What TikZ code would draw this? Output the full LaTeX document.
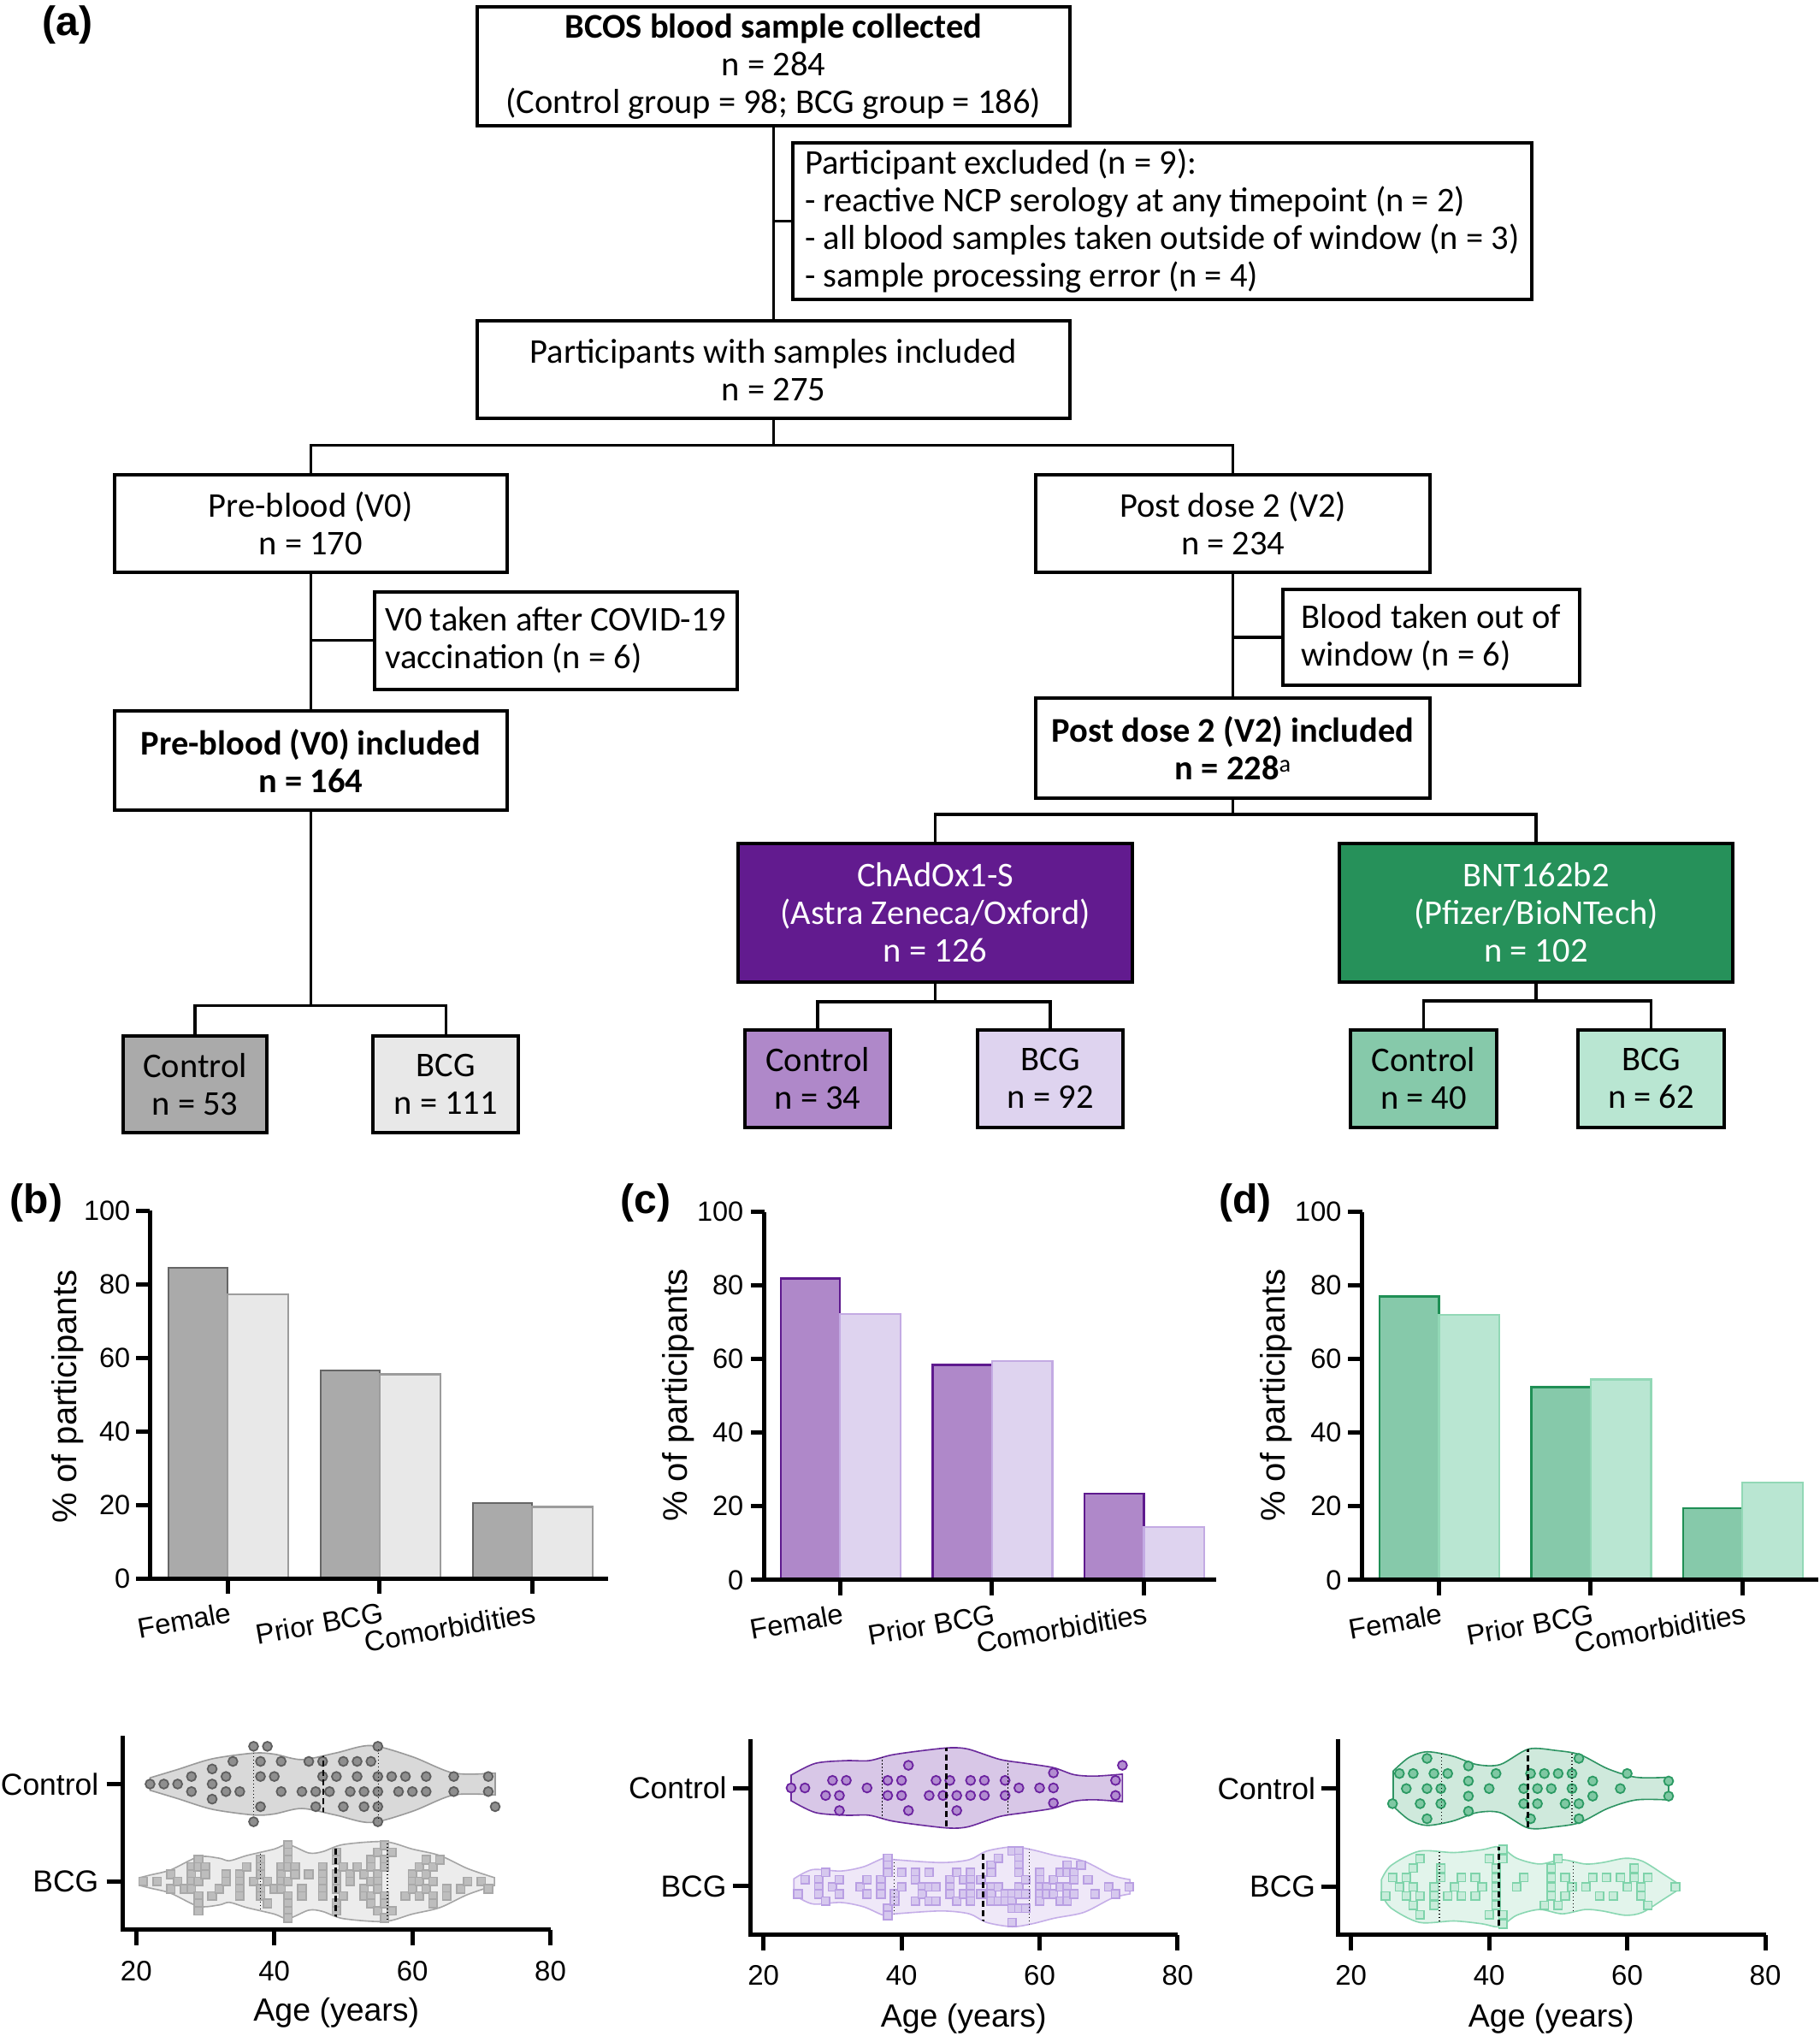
\documentclass[tikz,border=0pt]{standalone}
\usepackage{fontspec}
\setmainfont{Liberation Sans}
\newfontfamily\flowfont{Carlito}
\usetikzlibrary{positioning,calc}

% box and bar colours
\definecolor{chadpurple}{HTML}{621B8F}
\definecolor{bntgreen}{HTML}{26915A}
\definecolor{ctrlgray}{HTML}{AAAAAA}
\definecolor{bcggray}{HTML}{E8E8E8}
\definecolor{ctrlpurple}{HTML}{AF88C9}
\definecolor{bcgpurple}{HTML}{DED3EF}
\definecolor{ctrlgreen}{HTML}{86C9AA}
\definecolor{bcggreen}{HTML}{B9E6D2}
\definecolor{grayedge}{HTML}{666666}
\definecolor{grayedgel}{HTML}{9C9C9C}
\definecolor{purpleedge}{HTML}{5E1A8E}
\definecolor{purpleedgel}{HTML}{C3AAE3}
\definecolor{greenedge}{HTML}{1F8F55}
\definecolor{greenedgel}{HTML}{92D8B6}
% violin colours
\definecolor{vgraycf}{HTML}{D9D9D9}
\definecolor{vgrayce}{HTML}{9A9A9A}
\definecolor{vgraybf}{HTML}{ECECEC}
\definecolor{vgraybe}{HTML}{A5A5A5}
\definecolor{vpurcf}{HTML}{D8C7E7}
\definecolor{vpurce}{HTML}{6A2A9C}
\definecolor{vpurbf}{HTML}{EFE8F8}
\definecolor{vpurbe}{HTML}{C5AEE8}
\definecolor{vgrncf}{HTML}{CFE9DC}
\definecolor{vgrnce}{HTML}{2E9463}
\definecolor{vgrnbf}{HTML}{E2F4EB}
\definecolor{vgrnbe}{HTML}{8AD7B2}
\definecolor{dgrayf}{HTML}{8F8F8F}
\definecolor{dgraye}{HTML}{5E5E5E}
\definecolor{sgrayf}{HTML}{BDBDBD}
\definecolor{sgraye}{HTML}{A8A8A8}
\definecolor{dpurf}{HTML}{B28CD0}
\definecolor{dpure}{HTML}{6B22A0}
\definecolor{spurf}{HTML}{D6C8EE}
\definecolor{spure}{HTML}{B99FE3}
\definecolor{dgrnf}{HTML}{7FC8A3}
\definecolor{dgrne}{HTML}{2B9A63}
\definecolor{sgrnf}{HTML}{C8ECDA}
\definecolor{sgrne}{HTML}{7ED3AA}

\tikzset{
  flowbox/.style 2 args={draw, line width=4pt, fill=white, inner sep=0pt, align=center,
    minimum width=#1*1.52pt, minimum height=#2*1.52pt,
    font=\flowfont\fontsize{40.5}{44}\selectfont},
  notebox/.style 2 args={flowbox={#1}{#2}, align=left},
  link/.style={line width=3.5pt},
  axisline/.style={line width=5pt},
  barbox/.style 2 args={fill=#1, draw=#2, line width=2.3pt},
  ticklab/.style={font=\fontsize{32.5}{38}\selectfont, inner sep=0pt},
  catlab/.style={font=\fontsize{33}{38}\selectfont, inner sep=0pt, anchor=north east, rotate=10},
  ylab/.style={font=\fontsize{40}{48}\selectfont, rotate=90},
  plab/.style={font=\bfseries\fontsize{48}{52}\selectfont},
  grplab/.style={font=\fontsize{35.5}{42}\selectfont, anchor=east, inner sep=0pt},
  numlab/.style={font=\fontsize{33}{40}\selectfont, inner sep=0pt},
  agelab/.style={font=\fontsize{37.5}{44}\selectfont},
  vio/.style 2 args={fill=#1, draw=#2, line width=1.6pt},
  med/.style={line width=2.6pt, dash pattern=on 7pt off 4pt},
  quart/.style={line width=1.2pt, dash pattern=on 1.5pt off 2.5pt},
  cdot/.style 2 args={fill=#1, draw=#2, line width=1.8pt},
  sqr/.style 2 args={fill=#1, draw=#2, line width=1.6pt},
  agescale/.style 2 args={shift={(#1,#2)}, x=8.071pt},
}

\begin{document}
\begin{tikzpicture}[x=1.52pt,y=-1.52pt]
\fill[white] (0,0) rectangle (1400,1570.4);
\useasboundingbox (0,0) rectangle (1400,1570.4);

%% (a) flow chart
\node[plab] at (52,19) {(a)};
\node[flowbox={456}{92}] (collected) at (595,51) {\textbf{BCOS blood sample collected}\\n = 284\\(Control group = 98; BCG group = 186)};
\node[notebox={568}{120}] (excluded) at (894,170) {Participant excluded (n = 9):\\- reactive NCP serology at any timepoint (n = 2)\\- all blood samples taken outside of window (n = 3)\\- sample processing error (n = 4)};
\node[flowbox={456}{75}] (included) at (595,284.5) {Participants with samples included\\n = 275};
\node[flowbox={302}{75}] (prebase) at (239,402.5) {Pre-blood (V0)\\n = 170};
\node[flowbox={303}{75}] (postbase) at (948.5,402.5) {Post dose 2 (V2)\\n = 234};
\node[notebox={279}{75}] (prenote) at (427.5,492.5) {V0 taken after COVID-19\\vaccination (n = 6)};
\node[notebox={228}{74}] (postnote) at (1101,490) {Blood taken out of\\window (n = 6)};
\node[flowbox={302}{76}] (preincl) at (239,585) {\textbf{Pre-blood (V0) included}\\\textbf{n = 164}};
\node[flowbox={303}{77}] (postincl) at (948.5,575.5) {\textbf{Post dose 2 (V2) included}\\\textbf{n = 228}\textsuperscript{\mdseries a}};
\node[flowbox={303}{107}, fill=chadpurple, text=white] (chadox) at (719.5,702) {ChAdOx1-S\\(Astra Zeneca/Oxford)\\n = 126};
\node[flowbox={303}{107}, fill=bntgreen, text=white] (bnt) at (1181.5,702) {BNT162b2\\(Pfizer/BioNTech)\\n = 102};
\node[flowbox={111}{74}, fill=ctrlgray] (preCtrl) at (150,834) {Control\\n = 53};
\node[flowbox={112}{74}, fill=bcggray] (preBCG) at (343,834) {BCG\\n = 111};
\node[flowbox={112}{75}, fill=ctrlpurple] (chadCtrl) at (629,829.5) {Control\\n = 34};
\node[flowbox={112}{75}, fill=bcgpurple] (chadBCG) at (808,829.5) {BCG\\n = 92};
\node[flowbox={112}{75}, fill=ctrlgreen] (bntCtrl) at (1095,829.5) {Control\\n = 40};
\node[flowbox={112}{75}, fill=bcggreen] (bntBCG) at (1270,829.5) {BCG\\n = 62};

\draw[link] (collected.south) -- (included.north);
\draw[link] (excluded.west -| collected.south) -- (excluded.west);
\draw[link] (included.south) -- ++(0,19) coordinate (split1);
\draw[link] (prebase.north) |- (split1) -| (postbase.north);
\draw[link] (prebase.south) -- (preincl.north);
\draw[link] (prenote.west -| prebase.south) -- (prenote.west);
\draw[link] (postbase.south) -- (postincl.north);
\draw[link] (postnote.west -| postbase.south) -- (postnote.west);
\draw[link] (preincl.south) -- ++(0,149) coordinate (split2);
\draw[link] (preCtrl.north) |- (split2) -| (preBCG.north);
\draw[link] (postincl.south) -- ++(0,11) coordinate (split3);
\draw[link] (chadox.north) |- (split3) -| (bnt.north);
\draw[link] (chadox.south) -- ++(0,13.5) coordinate (split4);
\draw[link] (chadCtrl.north) |- (split4) -| (chadBCG.north);
\draw[link] (bnt.south) -- ++(0,13) coordinate (split5);
\draw[link] (bntCtrl.north) |- (split5) -| (bntBCG.north);

%% (b) (c) (d) bar charts
\node[plab] at (28,925) {(b)};
\node[plab] at (496.5,925) {(c)};
\node[plab] at (958,925) {(d)};
\node[ylab] at (52.4,1074) {\% of participants};
\node[ylab] at (521.7,1073) {\% of participants};
\node[ylab] at (981.6,1073) {\% of participants};

\begin{scope}[shift={(0,1214)}, y=4.3016pt]
  \foreach \s/\vc/\vb in {129.7/84.4/77.2, 246.6/56.6/55.5, 363.8/20.5/19.5} {
    \draw[barbox={ctrlgray}{grayedge}] (\s,0) rectangle ++(45.5,\vc);
    \draw[barbox={bcggray}{grayedgel}] (\s+45.5,0) rectangle ++(46.5,\vb);
    \draw[axisline] (\s+45.5,0) -- ++(0,-17.8pt);
  }
  \draw[axisline] (115.4,100) -- (115.4,0) -- (467.7,0);
  \foreach \v in {0,20,...,100} {
    \draw[axisline] (104.8,\v) -- (115.4,\v);
    \node[ticklab, anchor=east] at (100.3,\v) {\v};
  }
  \foreach \t/\lab in {175.2/Female, 292.1/Prior BCG, 409.3/Comorbidities}
    \node[catlab] at (\t+1,-6.3) {\lab};
\end{scope}

\begin{scope}[shift={(0,1215)}, y=4.3016pt]
  \foreach \s/\vc/\vb in {600.6/81.9/72.2, 717.5/58.4/59.5, 834.4/23.5/14.4} {
    \draw[barbox={ctrlpurple}{purpleedge}] (\s,0) rectangle ++(45.5,\vc);
    \draw[barbox={bcgpurple}{purpleedgel}] (\s+45.5,0) rectangle ++(46.5,\vb);
    \draw[axisline] (\s+45.5,0) -- ++(0,-17.8pt);
  }
  \draw[axisline] (588,100) -- (588,0) -- (935.6,0);
  \foreach \v in {0,20,...,100} {
    \draw[axisline] (577.5,\v) -- (588,\v);
    \node[ticklab, anchor=east] at (572,\v) {\v};
  }
  \foreach \t/\lab in {646.1/Female, 763/Prior BCG, 879.9/Comorbidities}
    \node[catlab] at (\t+1,-6.3) {\lab};
\end{scope}

\begin{scope}[shift={(0,1215)}, y=4.3016pt]
  \foreach \s/\vc/\vb in {1061.4/77.0/72.1, 1178/52.4/54.5, 1294.7/19.5/26.5} {
    \draw[barbox={ctrlgreen}{greenedge}] (\s,0) rectangle ++(45.5,\vc);
    \draw[barbox={bcggreen}{greenedgel}] (\s+45.5,0) rectangle ++(46.5,\vb);
    \draw[axisline] (\s+45.5,0) -- ++(0,-17.8pt);
  }
  \draw[axisline] (1047.9,100) -- (1047.9,0) -- (1398.5,0);
  \foreach \v in {0,20,...,100} {
    \draw[axisline] (1037,\v) -- (1047.9,\v);
    \node[ticklab, anchor=east] at (1032,\v) {\v};
  }
  \foreach \t/\lab in {1106.9/Female, 1223.5/Prior BCG, 1340.2/Comorbidities}
    \node[catlab] at (\t+1,-6.3) {\lab};
\end{scope}

%% age violins, panel (b)
\draw[axisline] (94.7,1335) -- (94.7,1484) -- (423.6,1484);
\draw[axisline] (82,1372) -- (94.7,1372) (82,1447) -- (94.7,1447);
\node[grplab] at (76,1372) {Control};
\node[grplab] at (76,1447) {BCG};
\begin{scope}[agescale={-1.4}{0}]
  \foreach \a in {20,40,60,80} {
    \draw[axisline] (\a,1484) -- ++(0,-18pt);
    \node[numlab] at (\a,1515.6) {\a};
  }
  \node[agelab] at (49,1548) {Age (years)};
\end{scope}

\begin{scope}[agescale={-1.4}{1372}]
  \path[save path=\vioBctrl] plot[smooth] coordinates {(22,-4.8) (26,-11.2) (31,-19.4) (37,-23.8) (40,-23) (44,-18.8) (49,-24) (54,-29.6) (60,-21) (66,-8.4) (72,-8.4)}
    -- plot[smooth] coordinates {(72,8.4) (66,8.4) (60,21) (54,29.6) (49,24) (44,18.8) (40,23) (37,23.8) (31,19.4) (26,11.2) (22,4.8)} -- cycle;
  \draw[vio={vgraycf}{vgrayce}, use path=\vioBctrl];
  \foreach \a/\r in {22/0, 24/0, 26/0, 31/-2, 31/0, 31/2,
      28/-1, 33/-1, 38/-1, 40/-1, 47/-1, 49/-1, 52/-1, 55/-1, 57/-1, 59/-1, 62/-1, 66/-1, 71/-1,
      28/1, 33/1, 35/1, 41/1, 44/1, 46/1, 48/1, 51/1, 53/1, 55/1, 58/1, 60/1, 62/1, 66/1, 71/1,
      34/-3, 38/-3, 41/-3, 45/-3, 47/-3, 50/-3, 52/-3, 54/-3,
      38/3, 46/3, 50/3, 53/3, 55/3, 72/3, 37/-5, 39/-5, 55/-5, 37/5, 55/5}
    \draw[cdot={dgrayf}{dgraye}] (\a,\r*5.8) circle[radius=5.4pt];
  \begin{scope}
    \clip[use path=\vioBctrl];
    \draw[med] (47.1,-40) -- (47.1,40);
    \draw[quart] (37,-40) -- (37,40) (55.1,-40) -- (55.1,40);
  \end{scope}
\end{scope}

\begin{scope}[agescale={-1.4}{1447}]
  \path[save path=\vioBbcg] plot[smooth] coordinates {(20.5,-3) (22,-5) (25,-9) (29,-19) (32,-18) (33.5,-16) (36,-20) (40,-25) (42,-28.5) (45,-22) (47,-23) (50,-28.5) (56,-30.7) (60,-25) (64,-20) (68,-10) (71.9,-3)}
    -- plot[smooth] coordinates {(71.9,3) (68,10) (64,20) (60,25) (56,30.7) (50,28.5) (47,23) (45,22) (42,28.5) (40,25) (36,20) (33.5,16) (32,18) (29,19) (25,9) (22,5) (20.5,3)} -- cycle;
  \draw[vio={vgraybf}{vgraybe}, use path=\vioBbcg];
  \foreach \a/\rs in {21/0, 23/0, 25/{-1,1}, 26/0, 27/1, 28/{-2,-1,0,1}, 29/{-3,-2,0,2,3,4}, 30/{-2,-1},
      31/2, 32/1, 33/{-1,0}, 35/{-1,0,1,2}, 36/-2, 37/0, 38/{-3,-2,-1,1,2}, 39/{0,3}, 40/1,
      41/{-2,-1,0,1}, 42/{-5,-4,-3,-2,0,2,3,4,5}, 43/{-2,-1}, 44/{1,2}, 45/-1, 47/{-2,-1,0,1,2},
      49/{-4,-3,-1,0,1,3,4}, 50/{-2,2}, 51/{-1,0}, 52/-2, 53/{-1,1,2}, 54/{-3,-2,0,2,3},
      55/{-4,-1,0,1,4}, 56/{-5,-3,-2,2,3,5}, 57/{-4,4}, 59/2, 60/{-1,0,1}, 61/{-2,0,2},
      62/{-3,-1,1}, 63/{-2,0,2,3}, 64/-3, 65/{1,2}, 67/1, 68/0, 70/0, 71/1}
    \foreach \r in \rs
      \draw[sqr={sgrayf}{sgraye}] (\a,\r*5.6) ++(-4.8pt,-4.8pt) rectangle ++(9.6pt,9.6pt);
  \begin{scope}
    \clip[use path=\vioBbcg];
    \draw[med] (48.9,-40) -- (48.9,40);
    \draw[quart] (38,-40) -- (38,40) (56.4,-40) -- (56.4,40);
  \end{scope}
\end{scope}

%% age violins, panel (c)
\draw[axisline] (577,1337.4) -- (577,1488) -- (906.1,1488);
\draw[axisline] (563.7,1375) -- (577,1375) (563.7,1450.5) -- (577,1450.5);
\node[grplab] at (559,1375) {Control};
\node[grplab] at (559,1450.5) {BCG};
\begin{scope}[agescale={481.1}{0}]
  \foreach \a in {20,40,60,80} {
    \draw[axisline] (\a,1488) -- ++(0,-18pt);
    \node[numlab] at (\a,1519) {\a};
  }
  \node[agelab] at (49,1552.6) {Age (years)};
\end{scope}

\begin{scope}[agescale={481.1}{1375}]
  \path[save path=\vioCctrl] plot[smooth] coordinates {(24,-9.8) (27.5,-18.9) (31.9,-21) (35.3,-21) (38.6,-25.4) (43,-28.7) (47,-30.9) (49.7,-29.8) (54.2,-22) (58,-18.9) (62,-15.6) (65,-10.2) (68,-9.1) (72,-10.6)}
    -- plot[smooth] coordinates {(72,10.6) (68,9.1) (65,10.2) (62,15.6) (58,18.9) (54.2,22) (49.7,29.8) (47,30.9) (43,28.7) (38.6,25.4) (35.3,21) (31.9,21) (27.5,18.9) (24,9.8)} -- cycle;
  \draw[vio={vpurcf}{vpurce}, use path=\vioCctrl];
  \foreach \a/\r in {24/0, 26/0, 30/-1, 32/-1, 29/1, 31/1, 31/3, 35/0, 38/-1, 40/-1, 38/1, 40/1,
      41/-3, 41/3, 45/-1, 47/-1, 44/1, 46/1, 48/1, 48/3, 50/-1, 52/-1, 50/1, 52/1, 55/-1, 55/1,
      57/0, 60/0, 62/-2, 62/0, 62/2, 71/-1, 71/1, 72/-3}
    \draw[cdot={dpurf}{dpure}] (\a,\r*5.8) circle[radius=5.4pt];
  \begin{scope}
    \clip[use path=\vioCctrl];
    \draw[med] (46.5,-40) -- (46.5,40);
    \draw[quart] (37.2,-40) -- (37.2,40) (55.4,-40) -- (55.4,40);
  \end{scope}
\end{scope}

\begin{scope}[agescale={481.1}{1451}]
  \path[save path=\vioCbcg] plot[smooth] coordinates {(24.4,-6.1) (27.1,-13.2) (31.2,-12.1) (34.5,-15.4) (37.4,-21.9) (39.1,-20.8) (45.7,-18.6) (49.8,-20.8) (52.3,-27.4) (56,-30.7) (58.9,-28.5) (62.2,-24.1) (66.4,-19.7) (70.5,-8.8) (73.1,-5.5)}
    -- plot[smooth] coordinates {(73.1,5.5) (70.5,8.8) (66.4,19.7) (62.2,24.1) (58.9,28.5) (56,30.7) (52.3,27.4) (49.8,20.8) (45.7,18.6) (39.1,20.8) (37.4,21.9) (34.5,15.4) (31.2,12.1) (27.1,13.2) (24.4,6.1)} -- cycle;
  \draw[vio={vpurbf}{vpurbe}, use path=\vioCbcg];
  \foreach \a/\rs in {25/1, 26/-1, 28/{-1,0,1}, 29/{-2,2}, 30/0, 31/{-1,1}, 34/0, 35/{-1,1},
      37/{-1,0,1}, 38/{-4,-3,-2,3,4}, 39/{1,2}, 40/{-2,0}, 42/{-2,-1,2}, 43/{0,1}, 44/{-2,0,2},
      45/{0,2}, 47/{-1,0,1}, 48/{-2,2}, 49/{-1,1}, 50/{-2,-1,0,1,2}, 51.5/{-1,1},
      53/{-3,-2,0,1,2}, 54/{-4,0,2}, 55/{1,2}, 56/{-5,1,2,3,5}, 57/{-5,-4,-3,-2,0,1,3},
      58/{-1,1,3}, 60/{-2,-1,0,1,2}, 61/{0,1}, 62/{-1,1}, 63/{-2,0,2}, 64/{-3,-2,0,1,2},
      65/{-2,-1,1}, 66/-3, 67/-1, 68/1, 70/0, 71/1, 73/0}
    \foreach \r in \rs
      \draw[sqr={spurf}{spure}] (\a,\r*5.5) ++(-4.8pt,-4.8pt) rectangle ++(9.6pt,9.6pt);
  \begin{scope}
    \clip[use path=\vioCbcg];
    \draw[med] (51.8,-40) -- (51.8,40);
    \draw[quart] (38.95,-40) -- (38.95,40) (58.5,-40) -- (58.5,40);
  \end{scope}
\end{scope}

%% age violins, panel (d)
\draw[axisline] (1029,1337.4) -- (1029,1488) -- (1358.6,1488);
\draw[axisline] (1016.2,1375.5) -- (1029,1375.5) (1016.2,1451) -- (1029,1451);
\node[grplab] at (1012,1375.5) {Control};
\node[grplab] at (1012,1451) {BCG};
\begin{scope}[agescale={933.1}{0}]
  \foreach \a in {20,40,60,80} {
    \draw[axisline] (\a,1488) -- ++(0,-18pt);
    \node[numlab] at (\a,1519) {\a};
  }
  \node[agelab] at (49,1552.6) {Age (years)};
\end{scope}

\begin{scope}[agescale={933.1}{1375.5}]
  \path[save path=\vioDctrl] plot[smooth] coordinates {(26.1,-13.5) (28.4,-24) (31,-28.3) (34.7,-25) (38.2,-18.5) (41.6,-18.5) (45.7,-30.4) (49.7,-29.3) (53.2,-26) (57.2,-15.2) (61.3,-8.7) (66,-8.7)}
    -- plot[smooth] coordinates {(66,8.7) (61.3,8.7) (57.2,15.2) (53.2,26) (49.7,29.3) (45.7,30.4) (41.6,18.5) (38.2,18.5) (34.7,25) (31,28.3) (28.4,24) (26.1,13.5)} -- cycle;
  \draw[vio={vgrncf}{vgrnce}, use path=\vioDctrl];
  \foreach \a/\r in {31/-4, 27/-2, 29/-2, 32/-2, 34/-2, 37/-3, 41/-2, 46/-2, 48/-2, 50/-2, 52/-2,
      53/-4, 60/-2, 55/-1, 66/-1, 66/1, 28/0, 31/0, 33/0, 37/-1, 40/0, 45/0, 47/0, 49/0, 52/0,
      59/0, 37/1, 55/1, 26/2, 30/2, 33/2, 45/2, 47/2, 51/2, 53/2, 37/3, 31/4, 46/4, 53/4}
    \draw[cdot={dgrnf}{dgrne}] (\a,\r*5.8) circle[radius=5.4pt];
  \begin{scope}
    \clip[use path=\vioDctrl];
    \draw[med] (45.6,-40) -- (45.6,40);
    \draw[quart] (33.1,-40) -- (33.1,40) (52,-40) -- (52,40);
  \end{scope}
\end{scope}

\begin{scope}[agescale={933.1}{1451}]
  \path[save path=\vioDbcg] plot[smooth] coordinates {(24.4,-5.5) (25.8,-16.4) (29.9,-27.4) (34.9,-26.3) (39,-28.5) (41.5,-30.7) (44,-21.9) (47.3,-17.5) (50.6,-20.8) (53.9,-17.5) (56.4,-18.6) (59.7,-21.9) (62.2,-19.7) (65.5,-8.8) (67.1,-3.3)}
    -- plot[smooth] coordinates {(67.1,3.3) (65.5,8.8) (62.2,19.7) (59.7,21.9) (56.4,18.6) (53.9,17.5) (50.6,20.8) (47.3,17.5) (44,21.9) (41.5,30.7) (39,28.5) (34.9,26.3) (29.9,27.4) (25.8,16.4) (24.4,5.5)} -- cycle;
  \draw[vio={vgrnbf}{vgrnbe}, use path=\vioDbcg];
  \foreach \a/\rs in {25/1, 26/-1, 27/0, 28/{-1,1}, 29/{-2,0,2}, 30/{-3,1,3}, 32/{0,1,2},
      33/{-2,-1}, 34/1, 35/0, 36/{-1,1}, 38/{-1,1}, 39/0, 40/{-3,3}, 41/{-2,-1,0,1,2},
      42/{-4,-3,3,4}, 44/0, 45/-1, 48/2, 49/{-2,-1,0,1}, 50/{-3,2}, 51/{-1,1}, 52/0, 54/0,
      55/-1, 56/1, 57/-1, 58/1, 59/-1, 60/0, 61/{-2,-1}, 62/{0,1}, 63/{-1,2}, 67/0}
    \foreach \r in \rs
      \draw[sqr={sgrnf}{sgrne}] (\a,\r*7.2) ++(-4.8pt,-4.8pt) rectangle ++(9.6pt,9.6pt);
  \begin{scope}
    \clip[use path=\vioDbcg];
    \draw[med] (41.4,-40) -- (41.4,40);
    \draw[quart] (32.8,-40) -- (32.8,40) (52.2,-40) -- (52.2,40);
  \end{scope}
\end{scope}

\end{tikzpicture}
\end{document}
